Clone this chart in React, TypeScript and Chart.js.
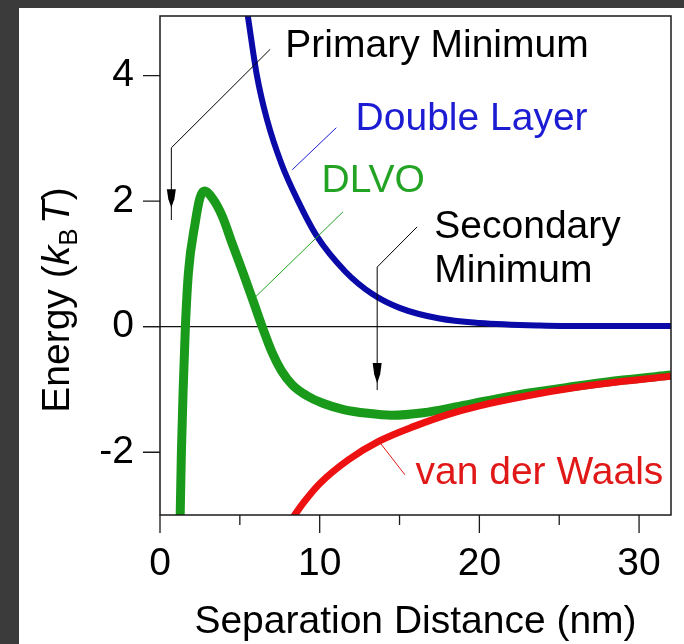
import { useEffect, useRef } from "react";
import { Chart, registerables } from "chart.js";

Chart.register(...registerables);

// ---------- data ----------
const xMajorTicks = [0, 10, 20, 30];
const xMinorTicks = [5, 15, 25];
const yMajorTicks = [-2, 0, 2, 4];
const xMin = 0;
const xMax = 32;
const yMin = -3;
const yMax = 4.95;

const doubleLayerX = [5.2, 5.5, 6.07, 6.7, 7.6, 8.65, 9.8, 11.6, 13.3, 15, 17.5, 20, 23.8, 28, 32];
const doubleLayerY = [5.45, 4.95, 4.0, 3.3, 2.6, 2.0, 1.45, 0.88, 0.52, 0.3, 0.13, 0.06, 0.02, 0.01, 0.01];

const dlvoX = [1.25, 1.34, 1.45, 1.59, 1.78, 2.2, 2.5, 2.78, 3.3, 3.9, 4.5, 5.2, 5.9, 6.4, 7.0, 7.6, 8.3, 9.2, 10.2, 11.5, 13, 14.5, 16.5, 18.5, 20.5, 23, 26, 29, 32];
const dlvoY = [-3.2, -2.0, -1.0, 0.0, 0.86, 1.65, 2.05, 2.16, 2.04, 1.76, 1.34, 0.86, 0.36, 0.0, -0.4, -0.7, -0.93, -1.1, -1.22, -1.32, -1.38, -1.41, -1.37, -1.28, -1.18, -1.06, -0.95, -0.85, -0.77];

const vdwX = [8.3, 9, 10, 11.8, 13.75, 16, 18, 20, 23, 26, 29, 32];
const vdwY = [-3.05, -2.8, -2.5, -2.12, -1.82, -1.58, -1.4, -1.26, -1.1, -0.97, -0.87, -0.79];

const seriesNames = ["van der Waals", "Double Layer", "DLVO"];

// annotation texts (data coordinates of left/baseline)
const noteTexts = ["Primary Minimum", "Double Layer", "DLVO", "Secondary", "Minimum", "van der Waals"];
const noteX = [7.85, 12.25, 10.12, 17.18, 17.18, 16.0];
const noteY = [4.29, 3.14, 2.14, 1.42, 0.71, -2.51];
const noteColors = ["#000000", "#1c1cd2", "#23a323", "#000000", "#000000", "#e01818"];

// leader lines (data coordinates)
const leaders = [
  { pts: [[6.9, 4.42], [0.71, 2.85], [0.71, 1.7]], color: "#000000", arrow: [2.19, 1.9] },
  { pts: [[11.04, 3.17], [8.28, 2.5]], color: "#1c1cd2", arrow: null },
  { pts: [[11.46, 1.83], [5.96, 0.47]], color: "#23a323", arrow: null },
  { pts: [[16.1, 1.59], [13.6, 0.95], [13.6, -1.01]], color: "#000000", arrow: [-0.58, -0.9] },
  { pts: [[13.66, -1.81], [15.34, -2.36]], color: "#e01818", arrow: null },
];

const FONT = '"Liberation Sans", Arial, sans-serif';
const FS = 39;

const decor = {
  id: "decor",
  beforeDraw(chart: any) {
    const ctx = chart.ctx;
    ctx.save();
    ctx.fillStyle = "#3b3b3b";
    ctx.fillRect(0, 0, chart.width, chart.height);
    ctx.fillStyle = "#ffffff";
    ctx.fillRect(19, 8, chart.width - 19, chart.height - 8);
    ctx.restore();
  },
  beforeDatasetsDraw(chart: any) {
    const ctx = chart.ctx;
    const { left, right } = chart.chartArea;
    const y0 = chart.scales.y.getPixelForValue(0);
    ctx.save();
    ctx.strokeStyle = "#111";
    ctx.lineWidth = 1.3;
    ctx.beginPath();
    ctx.moveTo(left - 17, y0);
    ctx.lineTo(right, y0);
    ctx.stroke();
    ctx.restore();
  },
  afterDatasetsDraw(chart: any) {
    const ctx = chart.ctx;
    const { left, right, top, bottom } = chart.chartArea;
    const xs = chart.scales.x;
    const ys = chart.scales.y;
    ctx.save();
    // frame
    ctx.strokeStyle = "#1a1a1a";
    ctx.lineWidth = 1.5;
    ctx.strokeRect(left, top, right - left, bottom - top);
    // ticks
    ctx.lineWidth = 1.3;
    ctx.beginPath();
    xMajorTicks.forEach((v) => {
      const p = xs.getPixelForValue(v);
      ctx.moveTo(p, bottom);
      ctx.lineTo(p, bottom + 18);
    });
    xMinorTicks.forEach((v) => {
      const p = xs.getPixelForValue(v);
      ctx.moveTo(p, bottom);
      ctx.lineTo(p, bottom + 10);
    });
    yMajorTicks.forEach((v) => {
      const p = ys.getPixelForValue(v);
      ctx.moveTo(left - 17, p);
      ctx.lineTo(left, p);
    });
    ctx.stroke();

    // leaders
    leaders.forEach((l) => {
      ctx.strokeStyle = l.color;
      ctx.fillStyle = l.color;
      ctx.lineWidth = 1;
      ctx.beginPath();
      l.pts.forEach((pt, i) => {
        const px = xs.getPixelForValue(pt[0]);
        const py = ys.getPixelForValue(pt[1]);
        if (i === 0) ctx.moveTo(px, py);
        else ctx.lineTo(px, py);
      });
      ctx.stroke();
      if (l.arrow) {
        const last = l.pts[l.pts.length - 1];
        const px = xs.getPixelForValue(last[0]);
        const a = ys.getPixelForValue(l.arrow[0]);
        const b = ys.getPixelForValue(l.arrow[1]);
        ctx.beginPath();
        ctx.moveTo(px - 4.5, a);
        ctx.lineTo(px + 4.5, a);
        ctx.lineTo(px + 3, a + (b - a) * 0.55);
        ctx.lineTo(px, b);
        ctx.lineTo(px - 3, a + (b - a) * 0.55);
        ctx.closePath();
        ctx.fill();
      }
    });

    // notes
    ctx.font = `${FS}px ${FONT}`;
    ctx.textAlign = "left";
    ctx.textBaseline = "alphabetic";
    noteTexts.forEach((t, i) => {
      ctx.fillStyle = noteColors[i];
      ctx.fillText(t, xs.getPixelForValue(noteX[i]), ys.getPixelForValue(noteY[i]));
    });

    // x title
    ctx.fillStyle = "#000";
    ctx.textAlign = "center";
    ctx.fillText("Separation Distance (nm)", (left + right) / 2, bottom + 118);

    // y title
    ctx.translate(69, 300);
    ctx.rotate(-Math.PI / 2);
    ctx.textAlign = "left";
    const parts = [
      { t: "Energy (", f: `${FS}px ${FONT}`, dy: 0 },
      { t: "k", f: `italic ${FS}px ${FONT}`, dy: 0 },
      { t: "B", f: `${Math.round(FS * 0.66)}px ${FONT}`, dy: 8 },
      { t: " ", f: `${Math.round(FS * 0.4)}px ${FONT}`, dy: 0 },
      { t: "T", f: `italic ${FS}px ${FONT}`, dy: 0 },
      { t: ")", f: `${FS}px ${FONT}`, dy: 0 },
    ];
    let total = 0;
    parts.forEach((p) => {
      ctx.font = p.f;
      total += ctx.measureText(p.t).width;
    });
    let cx = -total / 2;
    parts.forEach((p) => {
      ctx.font = p.f;
      ctx.fillText(p.t, cx, p.dy);
      cx += ctx.measureText(p.t).width;
    });
    ctx.restore();
  },
};

const zeroPadding = (s: any) => {
  s.paddingTop = 0;
  s.paddingBottom = 0;
  s.paddingLeft = 0;
  s.paddingRight = 0;
};

export default function App() {
  const ref = useRef<HTMLCanvasElement | null>(null);
  useEffect(() => {
    if (!ref.current) return;
    const toPts = (xs: number[], ys: number[]) => xs.map((x, i) => ({ x, y: ys[i] }));
    const chart = new Chart(ref.current, {
      type: "line",
      data: {
        datasets: [
          {
            label: seriesNames[0],
            data: toPts(vdwX, vdwY),
            borderColor: "#ee1111",
            borderWidth: 7,
            pointRadius: 0,
            cubicInterpolationMode: "monotone",
            clip: 0,
          },
          {
            label: seriesNames[1],
            data: toPts(doubleLayerX, doubleLayerY),
            borderColor: "#0a0aa8",
            borderWidth: 6,
            pointRadius: 0,
            cubicInterpolationMode: "monotone",
            clip: 0,
          },
          {
            label: seriesNames[2],
            data: toPts(dlvoX, dlvoY),
            borderColor: "#1a9a1a",
            borderWidth: 9,
            pointRadius: 0,
            cubicInterpolationMode: "monotone",
            clip: 0,
          },
        ],
      },
      options: {
        animation: false,
        responsive: false,
        devicePixelRatio: 1,
        layout: { padding: { left: 0, right: 13, top: 16, bottom: 0 } },
        plugins: { legend: { display: false }, tooltip: { enabled: false } },
        scales: {
          x: {
            type: "linear",
            min: xMin,
            max: xMax,
            grid: { display: false, drawTicks: false },
            border: { display: false },
            afterBuildTicks: (s: any) => {
              s.ticks = xMajorTicks.map((v) => ({ value: v }));
            },
            afterFit: (s: any) => {
              s.height = 129;
              zeroPadding(s);
            },
            ticks: {
              color: "#000",
              font: { family: FONT, size: FS },
              padding: 26,
              maxRotation: 0,
              autoSkip: false,
              callback: (v: any) => String(v),
            },
          },
          y: {
            type: "linear",
            min: yMin,
            max: yMax,
            grid: { display: false, drawTicks: false },
            border: { display: false },
            afterBuildTicks: (s: any) => {
              s.ticks = yMajorTicks.map((v) => ({ value: v }));
            },
            afterFit: (s: any) => {
              s.width = 160;
              zeroPadding(s);
            },
            ticks: {
              color: "#000",
              font: { family: FONT, size: FS },
              padding: 26,
              autoSkip: false,
              callback: (v: any) => String(v),
            },
          },
        },
      },
      plugins: [decor],
    });
    return () => chart.destroy();
  }, []);
  return (
    <div style={{ position: "absolute", left: 0, top: 0, width: 684, height: 644 }}>
      <canvas ref={ref} width={684} height={644} style={{ display: "block" }} />
    </div>
  );
}
